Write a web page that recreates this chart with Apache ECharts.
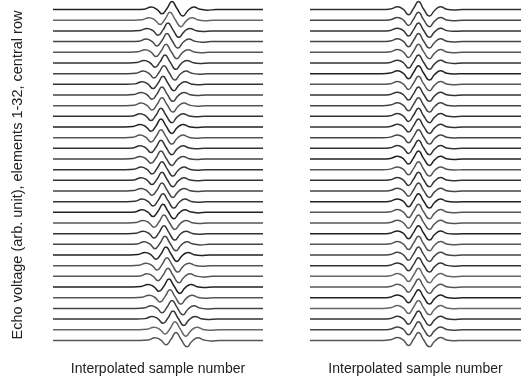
<!DOCTYPE html>
<html>
<head>
<meta charset="utf-8">
<script src="https://cdn.jsdelivr.net/npm/echarts@6/dist/echarts.min.js"></script>
<style>
  html, body { margin: 0; padding: 0; background: #fff; }
  #chart { width: 521px; height: 381px; }
</style>
</head>
<body>
<div id="chart"></div>
<script>
// element numbers, top trace first
const elements = Array.from({ length: 32 }, (_, i) => i + 1);

// sample where the main positive peak sits, per element
const leftPeak = [119, 117, 115, 114, 113, 112, 111, 110, 109, 109, 108, 108, 108, 108, 108, 109,
  109, 109, 110, 110, 111, 111, 112, 113, 114, 115, 116, 117, 119, 120, 122, 123];
const rightPeak = [108, 108, 108, 108, 108, 108, 108, 108, 108, 108, 108, 108, 108, 108, 108, 108,
  108, 108, 108, 108, 108, 108, 108, 108, 108, 108, 108, 108, 108, 108, 108, 108];

// echo pulse shape: sample offset from the peak and voltage (in trace spacings)
const pulseOffset = [-36, -28, -21, -15, -10, -5, 0, 5, 11, 16, 22, 28, 35, 44];
const pulseLeft = [0, 0.04, 0.24, 0.02, -0.4, 0.1, 0.75, 0.1, -0.6, -0.08, 0.24, 0.03, -0.05, 0];
const pulseRight = [0, 0.05, 0.26, 0.02, -0.48, 0.1, 0.75, 0.06, -0.6, -0.08, 0.26, 0.03, -0.04, 0];

// gray level of each trace (scanned figure)
const shades = ['#222', '#666', '#333', '#444', '#555', '#333', '#444', '#333', '#444', '#555', '#333', '#222',
  '#555', '#333', '#444', '#333', '#333', '#444', '#333', '#222', '#555', '#333', '#444', '#222',
  '#555', '#555', '#222', '#555', '#444', '#333', '#666', '#555'];

const sampleMax = 210;

function trace(peak, shape, base) {
  const pts = [[0, base]];
  pulseOffset.forEach((o, k) => pts.push([peak + o, base + shape[k]]));
  pts.push([sampleMax, base]);
  return pts;
}

const series = [];
elements.forEach((el, i) => {
  const base = 31 - i;
  series.push({
    type: 'line', xAxisIndex: 0, yAxisIndex: 0, name: 'L' + el,
    data: trace(leftPeak[i], pulseLeft, base),
    smooth: 0.5, showSymbol: false, silent: true,
    lineStyle: { color: shades[i], width: 1.5 }
  });
  series.push({
    type: 'line', xAxisIndex: 1, yAxisIndex: 1, name: 'R' + el,
    data: trace(rightPeak[i], pulseRight, base),
    smooth: 0.5, showSymbol: false, silent: true,
    lineStyle: { color: shades[(i + 5) % 32], width: 1.5 }
  });
});

const axisX = (idx) => ({
  type: 'value', gridIndex: idx, min: 0, max: sampleMax,
  axisLine: { show: false }, axisTick: { show: false }, axisLabel: { show: false }, splitLine: { show: false },
  name: 'Interpolated sample number', nameLocation: 'middle', nameGap: 12,
  nameTextStyle: { fontFamily: 'Liberation Sans', fontSize: 14, color: '#222' }
});
const axisY = (idx) => ({
  type: 'value', gridIndex: idx, min: -0.9, max: 31.9,
  axisLine: { show: false }, axisTick: { show: false }, axisLabel: { show: false }, splitLine: { show: false }
});

const chart = echarts.init(document.getElementById('chart'));
chart.setOption({
  animation: false,
  grid: [
    { left: 53, top: 0, width: 210, height: 362 },
    { left: 310, top: 0, width: 211, height: 362 }
  ],
  xAxis: [axisX(0), axisX(1)],
  yAxis: [
    Object.assign(axisY(0), {
      name: 'Echo voltage (arb. unit), elements 1-32, central row',
      nameLocation: 'middle', nameGap: 28, nameRotate: 90,
      nameTextStyle: { fontFamily: 'Liberation Sans', fontSize: 14.5, color: '#222' }
    }),
    axisY(1)
  ],
  series: series
});
</script>
</body>
</html>
